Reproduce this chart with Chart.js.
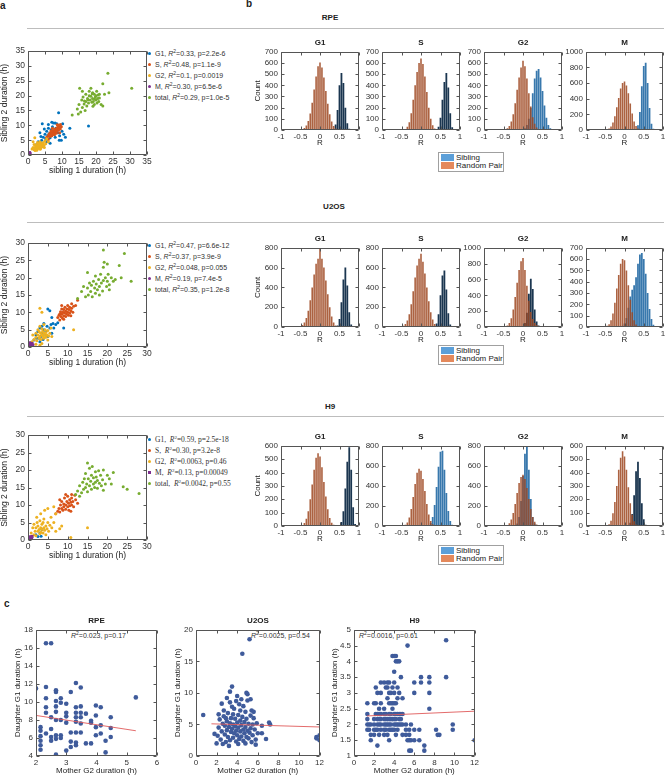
<!DOCTYPE html>
<html>
<head>
<meta charset="utf-8">
<title>Sibling cell-cycle phase correlations</title>
<script src="https://cdn.jsdelivr.net/npm/chart.js@4.4.1/dist/chart.umd.min.js"></script>
<style>
  body { margin: 0; width: 671px; height: 776px; position: relative; overflow: hidden; background: #fff;
         font-family: "Liberation Sans", Arial, sans-serif; color: #222; }
  canvas { position: absolute; }
  .txt { position: absolute; white-space: nowrap; }
  .panel { font-weight: bold; font-size: 10px; line-height: 10px; }
  .head { font-weight: bold; font-size: 8px; line-height: 9px; transform: translateX(-50%); }
  .rule { position: absolute; left: 27px; width: 637px; height: 1px; background: #bdbdbd; }
  .leg { position: absolute; font-size: 7px; line-height: 11px; color: #333; white-space: nowrap; }
  .leg.serif { font-family: "Liberation Serif", "DejaVu Serif", serif; font-size: 7.5px; }
  .leg b { display: inline-block; width: 3px; height: 3px; border-radius: 50%; margin: 0 4px 0 1px; vertical-align: 1px; }
  sup { font-size: 5px; vertical-align: 3px; line-height: 0; }
  .hleg { position: absolute; width: 62px; border: 1px solid #a0a0a0; background: #fff; font-size: 8px;
          line-height: 8.5px; padding: 0.5px 0 0.5px 2px; color: #222; }
  .hleg i { display: inline-block; width: 13px; height: 7px; margin-right: 2px; vertical-align: -1px; }
  .note { position: absolute; font-size: 7px; white-space: nowrap; color: #333; }
</style>
</head>
<body>
<div class="txt panel" style="left:0px;top:1px">a</div>
<div class="txt panel" style="left:246px;top:-1px">b</div>
<div class="txt panel" style="left:4px;top:599px">c</div>

<div class="txt head" style="left:330px;top:13px">RPE</div>
<div class="rule" style="top:28px"></div>
<div class="txt head" style="left:334px;top:202px">U2OS</div>
<div class="rule" style="top:222px"></div>
<div class="txt head" style="left:330px;top:402px">H9</div>
<div class="rule" style="top:416px"></div>

<div class="leg" style="left:147px;top:48px">
  <div><b style="background:#0072BD"></b>G1, <i>R</i><sup>2</sup>=0.33, p=2.2e-6</div>
  <div><b style="background:#D95319"></b>S, <i>R</i><sup>2</sup>=0.48, p=1.1e-9</div>
  <div><b style="background:#EDB120"></b>G2, <i>R</i><sup>2</sup>=0.1, p=0.0019</div>
  <div><b style="background:#7E2F8E"></b>M, <i>R</i><sup>2</sup>=0.30, p=6.5e-6</div>
  <div><b style="background:#77AC30"></b>total, <i>R</i><sup>2</sup>=0.29, p=1.0e-5</div>
</div>
<div class="leg" style="left:147px;top:240px">
  <div><b style="background:#0072BD"></b>G1, <i>R</i><sup>2</sup>=0.47, p=6.6e-12</div>
  <div><b style="background:#D95319"></b>S, <i>R</i><sup>2</sup>=0.37, p=3.9e-9</div>
  <div><b style="background:#EDB120"></b>G2, <i>R</i><sup>2</sup>=0.048, p=0.055</div>
  <div><b style="background:#7E2F8E"></b>M, <i>R</i><sup>2</sup>=0.19, p=7.4e-5</div>
  <div><b style="background:#77AC30"></b>total, <i>R</i><sup>2</sup>=0.35, p=1.2e-8</div>
</div>
<div class="leg serif" style="left:147px;top:434px">
  <div><b style="background:#0072BD"></b>G1, &nbsp;<i>R</i><sup>2</sup>=0.59, p=2.5e-18</div>
  <div><b style="background:#D95319"></b>S, &nbsp;<i>R</i><sup>2</sup>=0.30, p=3.2e-8</div>
  <div><b style="background:#EDB120"></b>G2, &nbsp;<i>R</i><sup>2</sup>=0.0063, p=0.46</div>
  <div><b style="background:#7E2F8E;border-radius:0"></b>M, &nbsp;<i>R</i><sup>2</sup>=0.13, p=0.00049</div>
  <div><b style="background:#77AC30"></b>total, &nbsp;<i>R</i><sup>2</sup>=0.0042, p=0.55</div>
</div>

<div class="hleg" style="left:438px;top:152px"><div><i style="background:#5c9fd8"></i>Sibling</div><div><i style="background:#e4895c"></i>Random Pair</div></div>
<div class="hleg" style="left:438px;top:345px"><div><i style="background:#5c9fd8"></i>Sibling</div><div><i style="background:#e4895c"></i>Random Pair</div></div>
<div class="hleg" style="left:438px;top:545px"><div><i style="background:#5c9fd8"></i>Sibling</div><div><i style="background:#e4895c"></i>Random Pair</div></div>

<div class="note" style="left:71px;top:632px"><i>R</i><sup>2</sup>=0.023, p=0.17</div>
<div class="note" style="left:251px;top:632px"><i>R</i><sup>2</sup>=0.0025, p=0.54</div>
<div class="note" style="left:359px;top:632px"><i>R</i><sup>2</sup>=0.0016, p=0.61</div>

<script>
// ---------- panel a : sibling 1 vs sibling 2 phase durations (h) ----------
const rpeG1 = [[3.5,7.5],[4.2,10.5],[4.5,6],[5,7],[5.2,5.5],[5.5,8],[5.8,6.5],[6,9],[6.2,7.2],[6.5,5.8],[6.8,8.5],[7,6.8],[7.2,9.5],[7.5,10.8],[7.8,8],[8,6],[8.2,9],[8.5,10.5],[8.8,7.5],[9,14.2],[9,8.8],[9.3,6.5],[9.5,9.8],[9.8,5],[10,8],[10.2,10.5],[10.5,7],[11,6],[12.3,9],[3,4.5],[4,5],[4.8,8.8],[5.5,4.5],[6,10.3],[7,11],[8,10.8],[17.8,9.8],[3.8,6.2],[2.5,3.5],[6.5,4],[9.2,5]];
const rpeS = [[5.5,6],[5.8,5.5],[6,6.5],[6.2,7],[6.5,6.2],[6.5,7.5],[6.8,7],[7,6.5],[7,7.8],[7.2,7.2],[7.3,8.2],[7.5,7],[7.5,8],[7.6,7.5],[7.8,8.5],[8,7.8],[8,8.8],[8.2,8.2],[8.3,7.3],[8.5,9],[8.5,8],[8.7,8.6],[8.8,9.5],[9,8.5],[9,10],[9.2,9.2],[9.5,8.8],[9.5,10.3],[9.8,9.5],[6,5.2],[6.8,8.2],[7.8,6.8],[8.6,10.2],[7.2,9],[9.3,7.5]];
const rpeG2 = [[1.2,2],[1.5,2.5],[1.8,1.8],[1.8,3.5],[2,2.2],[2,5.8],[2.2,3],[2.3,2.5],[2.5,2],[2.5,3.5],[2.7,2.8],[2.8,4.2],[3,2.2],[3,3],[3.2,3.8],[3.3,2.6],[3.5,3.2],[3.5,4.5],[3.7,2.3],[3.8,3.6],[4,3],[4,4],[4.2,2.8],[4.3,3.5],[4.5,4.2],[4.7,3.2],[5,4.8],[5.2,3.8],[5.5,5.5],[6,4.5],[2.6,1.6],[3.6,1.9],[1.5,4.5],[2.1,1.5],[4.8,2.5]];
const rpeM = [[0.3,0.3],[0.5,0.6],[0.6,0.4],[0.4,0.8]];
const rpeTotal = [[13,13.5],[14.5,15.5],[15,17],[15.2,22.5],[15.5,14.5],[15.8,18.5],[16,16],[16.2,19.5],[16.5,17.2],[16.8,15],[17,18],[17,20.5],[17.3,16.5],[17.5,19],[17.8,17.5],[18,20],[18,21.5],[18.3,18.5],[18.5,19.8],[18.8,17.8],[19,19],[19,21],[19.2,18],[19.5,20.5],[19.5,17],[19.8,19.5],[20,18.5],[20,20],[20.2,21.5],[20.5,19],[20.8,18],[21,20.5],[21,19.2],[21.5,17],[22,24],[22,16.5],[22.5,20.5],[23.5,27.5],[23.8,21],[30.5,22.5],[16,21.5],[18.5,22.5],[14.8,13.8],[20.3,17.5],[17.6,18.6],[18.9,20.6],[19.6,18.8],[20.6,20.2],[16.6,18.2],[19.1,16.4]];

const u2osG1 = [[1.5,2],[2,3.5],[2.5,4.5],[2.8,2.5],[3,5.5],[3.2,3],[3.5,4],[3.5,6],[3.8,2.2],[4,5],[4.2,3.5],[4.5,4.5],[4.8,6],[5,3],[5,11],[5.5,10.5],[5.5,5.5],[5.8,6.5],[6,4],[6,8.5],[6.3,6.8],[6.5,5.5],[7,6.5],[7.5,7],[9,5.5],[4,6.8],[2.2,2.5],[3,1.5]];
const u2osS = [[7.5,8.5],[7.8,9.2],[8,7.8],[8,9.5],[8.2,10.2],[8.3,8.8],[8.5,9.5],[8.5,11],[8.7,8.3],[8.8,10],[9,9],[9,10.8],[9.2,9.8],[9.3,11.5],[9.5,8.8],[9.5,10.3],[9.7,9.5],[9.8,11],[10,10],[10,12],[10.2,9.2],[10.3,10.8],[10.5,11.5],[10.5,9.8],[10.8,10.5],[11,11.2],[11,12.5],[11.3,10],[11.5,11.8],[12,12],[12.5,13.5],[9,8],[10.8,9],[8.5,12]];
const u2osG2 = [[1,1.5],[1.2,3.5],[1.5,2.2],[2,2.8],[2,4],[2.2,1.8],[2.5,3.5],[2.5,5],[2.8,2.5],[2.8,4.5],[3,3],[3,6],[3,11.2],[3.2,4],[3.3,2.2],[3.5,3.5],[3.5,5.2],[3.5,10],[3.7,4.5],[3.8,3],[4,4],[4,2.5],[4,6.5],[4.2,3.5],[4.3,5],[4.5,4.2],[4.5,2.8],[4.8,3.5],[5,4.8],[5,2],[5.2,3.2],[5.5,4],[5.8,5.5],[3,0.5],[3.5,1],[2,0.8],[11.5,5],[6,3]];
const u2osM = [[0.3,0.2],[0.5,0.5],[0.6,0.8],[0.8,0.4],[1,1],[0.4,1.2],[1.2,0.6]];
const u2osTotal = [[12.5,14],[13.5,16],[14,17.5],[15,17],[15.2,15],[15.5,18.5],[15.8,16],[16,17.8],[16.2,14.5],[16.5,19],[16.8,17],[17,15.5],[17,20.5],[17.2,18.2],[17.5,16.5],[17.8,19.5],[18,17.5],[18,15],[18.3,21],[18.5,18.5],[18.8,16.2],[19,19.2],[19,23],[19.2,24.5],[19.5,20],[19.8,17.5],[20,19],[20.2,21],[20.5,18],[20.5,16.5],[21,20],[21.5,19],[19,28],[24.3,27],[26,19],[23,23.5],[23.5,20],[22,19.5],[20,24],[15,21.5],[14.5,14.5]];

const h9G1 = [[2,1.5],[3,2],[3.3,1.1],[2.5,1],[3.5,3]];
const h9S = [[7,7.5],[7.5,8.2],[7.8,9],[8,8],[8.2,10],[8.5,9],[8.5,11],[8.8,8.5],[9,10.3],[9,9.5],[9.2,12],[9.5,10],[9.5,8.8],[9.8,11],[10,9.5],[10,12.5],[10.2,10.5],[10.3,8.5],[10.5,11.5],[10.5,9.8],[10.8,10.8],[11,10],[11,12],[11.3,11],[11.5,9.5],[11.8,12.8],[12,11.5],[12.5,10.5],[9.5,13],[8,11.5],[10.8,8.2],[11,13]];
const h9G2 = [[0.8,2],[1,1],[1.2,3.5],[1.5,1.5],[1.5,4.5],[1.8,2.5],[2,3.5],[2,1.2],[2.3,5],[2.5,2.5],[2.5,4],[2.8,3],[3,1.8],[3,5.5],[3.2,3.5],[3.3,2.2],[3.5,4.5],[3.5,3],[3.8,2],[3.8,5],[4,3.5],[4,6],[4.2,2.8],[4.5,4],[4.5,1.5],[4.8,3.2],[5,5],[5,9],[5.2,2.5],[5.5,4.2],[5.8,6.5],[6,3.5],[6.5,9.5],[6.5,5],[7,7.5],[7,2.5],[8,3.2],[8.5,4],[10.8,0.7],[15,3.5],[2.2,6.5],[3.2,7.5],[4.2,8.5]];
const h9M = [[0.3,0.3],[0.6,0.6],[0.9,0.4],[0.5,0.9],[1,1]];
const h9Total = [[12,13],[12.5,14],[13,15.5],[13.5,13.5],[13.8,16.5],[14,14.5],[14.2,17.5],[14.5,15],[14.5,19],[14.8,16],[15,22],[15,13.8],[15.2,17.5],[15.5,15.5],[15.5,20.5],[15.8,16.8],[16,18.5],[16,14.5],[16.2,21],[16.5,16],[16.5,17.8],[16.8,15],[17,19.5],[17,16.5],[17.2,18],[17.5,14.8],[17.5,17],[17.8,19.8],[18,16.2],[18.3,18.5],[18.5,15.5],[18.8,17.2],[19,20],[19.5,16],[20,18.5],[20.5,17.5],[21.5,19.3],[21,16],[24,15.2],[25,14.5],[28,13.3],[19,14.2],[13,12.5]];

// ---------- panel b : histograms of correlation R (bin centres, counts) ----------
const binCenters = [-0.95,-0.9,-0.85,-0.8,-0.75,-0.7,-0.65,-0.6,-0.55,-0.5,
  -0.45,-0.4,-0.35,-0.3,-0.25,-0.2,-0.15,-0.1,-0.05,0,
  0.05,0.1,0.15,0.2,0.25,0.3,0.35,0.4,0.45,0.5,
  0.55,0.6,0.65,0.7,0.75,0.8,0.85,0.9,0.95];

const rpeG1Rand = [0,0,0,0,0,0,0,0,1,3, 8,18,40,80,148,245,362,480,570,605, 560,470,350,235,140,75,35,14,5,2, 0,0,0,0,0,0,0,0,0];
const rpeG1Sib  = [0,0,0,0,0,0,0,0,0,0, 0,0,0,0,0,0,0,0,0,0, 0,0,0,0,0,0,8,50,180,400, 510,420,200,60,12,2,0,0,0];
const rpeSRand  = [0,0,0,0,0,0,0,0,0,0, 3,10,28,70,150,270,400,520,600,640, 590,480,340,200,100,42,14,4,1,0, 0,0,0,0,0,0,0,0,0];
const rpeSSib   = [0,0,0,0,0,0,0,0,0,0, 0,0,0,0,0,0,0,0,0,0, 0,0,0,0,0,0,0,5,30,110, 270,430,510,380,150,25,2,0,0];
const rpeG2Rand = [0,0,0,0,0,0,0,0,0,2, 6,15,35,75,140,240,360,470,560,620, 570,460,330,210,115,55,22,8,2,0, 0,0,0,0,0,0,0,0,0];
const rpeG2Sib  = [0,0,0,0,0,0,0,0,0,0, 0,0,0,0,0,0,0,0,0,5, 15,45,100,200,330,460,530,545,470,350, 220,110,45,15,4,0,0,0,0];
const rpeMRand  = [0,0,0,0,0,0,0,0,0,3, 8,20,45,95,175,290,410,530,600,620, 570,470,340,210,110,50,18,6,1,0, 0,0,0,0,0,0,0,0,0];
const rpeMSib   = [0,0,0,0,0,0,0,0,0,0, 0,0,0,0,0,0,0,0,0,0, 0,0,0,0,0,10,60,230,560,820, 860,600,280,80,15,2,0,0,0];

const u2osG1Rand = [0,0,0,0,0,0,0,0,2,8, 20,45,90,165,270,400,530,640,690,790, 690,600,470,330,200,105,45,16,5,1, 0,0,0,0,0,0,0,0,0];
const u2osG1Sib  = [0,0,0,0,0,0,0,0,0,0, 0,0,0,0,0,0,0,0,0,0, 0,0,0,0,0,0,0,0,15,80, 250,480,600,420,150,25,2,0,0];
const u2osSRand  = [0,0,0,0,0,0,0,0,0,4, 12,30,65,130,230,360,500,620,690,740, 660,540,400,260,150,75,30,10,3,0, 0,0,0,0,0,0,0,0,0];
const u2osSSib   = [0,0,0,0,0,0,0,0,0,0, 0,0,0,0,0,0,0,0,0,0, 0,0,0,0,0,0,5,35,130,320, 520,570,380,140,25,2,0,0,0];
const u2osG2Rand = [0,0,0,0,0,0,0,0,0,3, 8,20,50,110,220,380,560,720,830,870, 720,520,330,190,100,50,25,12,6,2, 0,0,0,0,0,0,0,0,0];
const u2osG2Sib  = [0,0,0,0,0,0,0,0,0,0, 0,0,0,0,0,0,0,0,0,10, 50,180,420,610,480,220,70,20,5,1, 0,0,0,0,0,0,0,0,0];
const u2osMRand  = [0,0,0,0,0,0,0,0,0,3, 10,25,60,120,215,340,460,560,600,590, 500,370,240,130,60,22,6,2,0,0, 0,0,0,0,0,0,0,0,0];
const u2osMSib   = [0,0,0,0,0,0,0,0,0,0, 0,0,0,0,0,0,0,3,10,30, 80,170,270,330,370,440,560,640,655,600, 470,300,160,70,20,5,0,0,0];

const h9G1Rand = [0,0,0,0,0,0,0,0,0,2, 8,22,55,110,200,310,420,510,545,520, 440,330,220,125,60,25,9,3,0,0, 0,0,0,0,0,0,0,0,0];
const h9G1Sib  = [0,0,0,0,0,0,0,0,0,0, 0,0,0,0,0,0,0,0,0,0, 0,0,0,0,0,0,0,0,0,5, 30,110,280,480,590,420,140,15,0];
const h9SRand  = [0,0,0,0,0,0,0,0,0,0, 3,12,35,85,170,290,420,530,570,550, 470,350,220,115,50,18,5,0,0,0, 0,0,0,0,0,0,0,0,0];
const h9SSib   = [0,0,0,0,0,0,0,0,0,0, 0,0,0,0,0,0,0,0,0,0, 0,0,0,8,30,90,210,390,590,740, 750,560,330,150,50,12,2,0,0];
const h9G2Rand = [0,0,0,0,0,0,0,0,0,0, 3,10,28,65,130,220,330,430,490,510, 470,380,270,170,90,42,16,6,2,0, 0,0,0,0,0,0,0,0,0];
const h9G2Sib  = [0,0,0,0,0,0,0,0,0,0, 0,0,0,0,0,5,25,90,250,500, 720,790,560,270,90,25,6,0,0,0, 0,0,0,0,0,0,0,0,0];
const h9MRand  = [0,0,0,0,0,0,0,0,0,0, 4,14,40,95,180,300,420,510,560,520, 420,290,170,85,35,12,3,0,0,0, 0,0,0,0,0,0,0,0,0];
const h9MSib   = [0,0,0,0,0,0,0,0,0,0, 0,0,0,0,0,0,0,0,0,0, 0,5,25,90,230,410,480,360,170,50, 10,0,0,0,0,0,0,0,0];

// ---------- panel c : mother G2 vs daughter G1 duration (h) ----------
const rpeMD = [[2.0,11.5],[2.15,7.2],[2.15,6.8],[2.15,6.2],[2.15,5.7],[2.15,5.2],[2.15,4.7],[2.33,11.65],[2.33,10.4],[2.33,9.4],[2.33,8.8],[2.33,6.5],[2.33,16.5],[2.5,16.5],[2.5,8.3],[2.5,7.0],[2.5,6.1],[2.5,5.7],[2.66,11.3],[2.66,11.1],[2.66,10.1],[2.66,9.5],[2.66,8.9],[2.66,8.0],[2.66,6.3],[2.66,5.9],[2.66,4.15],[2.82,10.4],[2.82,9.9],[2.82,8.0],[2.82,6.3],[2.82,6.0],[3.0,9.8],[3.0,8.8],[3.0,8.4],[3.0,7.7],[3.0,4.6],[3.15,11.1],[3.15,6.6],[3.15,5.6],[3.15,5.0],[3.32,12.1],[3.32,9.4],[3.32,8.8],[3.32,8.3],[3.32,7.8],[3.32,6.6],[3.32,5.5],[3.32,5.2],[3.48,11.6],[3.48,9.5],[3.48,8.8],[3.48,8.3],[3.48,7.6],[3.48,6.6],[3.65,8.7],[3.65,5.4],[3.82,5.4],[3.82,7.9],[3.82,7.7],[3.98,9.6],[3.98,8.5],[3.98,7.2],[3.98,6.3],[4.14,9.4],[4.14,7.4],[4.14,6.5],[4.3,4.4],[4.3,5.7],[4.47,8.3],[4.47,7.1],[4.47,6.1],[5.3,10.5]];
const rpeFit = [[2, 8.5], [5.3, 6.8]];

const u2osMD = [[2.1,3.2],[2.2,4.5],[2.3,5.8],[2.4,2.6],[2.5,3.9],[2.6,5.1],[2.7,6.3],[2.8,3.4],[2.8,4.8],[2.9,2.2],[3.0,5.5],[3.0,4.1],[3.1,6.8],[3.1,3.0],[3.2,4.6],[3.3,5.2],[3.3,2.5],[3.4,3.8],[3.4,6.0],[3.5,4.3],[3.5,11.0],[3.6,5.0],[3.6,2.9],[3.7,3.6],[3.7,7.5],[3.8,4.7],[3.8,5.9],[3.9,2.3],[3.9,4.0],[4.0,5.3],[4.0,3.3],[4.1,6.5],[4.1,4.5],[4.2,2.7],[4.2,8.2],[4.3,3.9],[4.3,5.6],[4.4,4.9],[4.4,3.1],[4.5,6.2],[4.5,16.2],[4.6,4.2],[4.6,2.4],[4.7,5.4],[4.7,3.6],[4.8,7.0],[4.8,4.6],[4.9,3.0],[4.9,5.9],[5.0,4.0],[5.0,8.8],[5.1,5.1],[5.1,2.8],[5.2,18.5],[5.2,3.7],[5.3,6.4],[5.3,4.4],[5.4,2.2],[5.5,5.0],[5.5,3.3],[5.6,6.0],[5.7,4.2],[5.8,2.6],[5.9,5.2],[6.0,3.6],[2.0,2.0],[1.8,3.5],[2.5,8.3],[3.0,9.2],[3.3,8.5],[4.0,9.5],[4.4,9.0],[5.0,9.8],[2.7,7.2],[3.5,7.8],[4.6,7.9],[5.4,7.2],[5.8,1.8],[3.2,1.6],[4.1,1.9],[6.4,4.8],[6.4,3.6],[6.8,2.7],[7.1,5.3],[7.2,5.0],[11.7,3.0],[11.7,2.8],[12,3.3],[12,2.5],[0.7,6.5],[2.2,6.6],[2.9,6.0],[3.6,6.6],[4.3,7.2],[5.6,7.0],[2.6,1.9],[4.8,2.0],[3.9,8.7],[4.9,10.0],[5.3,9.0],[3.3,10.2]];
const u2osFit = [[1.5, 5.1], [12, 4.6]];

const h9MD = [[1.33,2.67],[1.33,2.33],[1.33,2.17],[1.33,2],[1.33,1.83],[1.5,1.83],[1.5,2],[1.67,1.5],[1.67,1.67],[1.67,2],[2,1.67],[2,1.83],[2,2],[2,2.17],[2.17,2.33],[2,2.67],[2.17,2.67],[2.17,3.17],[2.17,1.83],[2.33,1.33],[2.33,2.17],[2.33,2.33],[2.33,1.83],[2.33,2],[2.33,3],[2.5,1.67],[2.5,2],[2.5,2.17],[2.5,2.33],[2.5,2.5],[2.67,3.33],[2.67,1.83],[2.67,2],[2.67,2.17],[2.67,2.33],[2.67,2.67],[2.67,3],[3,1.67],[3,1.83],[3,2],[3,2.17],[3,2.33],[3,3.33],[3,2.5],[3.17,1.83],[3.17,2],[3.17,2.33],[3.17,3.17],[3.17,2.17],[3.33,2],[3.33,2.17],[3.33,3.17],[3.33,3.33],[3.33,1.67],[3.33,2.83],[3.5,1.83],[3.5,2],[3.5,2.17],[3.5,2.33],[3.5,2.67],[3.5,3],[3.5,3.33],[3.5,1.5],[3.67,2],[3.67,2.17],[3.67,2.33],[3.67,2.67],[3.67,1.83],[3.67,3],[3.83,1.83],[3.83,2.17],[3.83,2.5],[3.83,2.67],[3.83,3.17],[3.83,4.17],[4,2],[4,2.17],[4,2.33],[4,2.67],[4,3],[4,3.33],[4,3.67],[4,4.17],[4,1.83],[4.17,2],[4.17,2.17],[4.17,2.33],[4.17,2.67],[4.17,4],[4.17,4.17],[4.17,1.67],[4.33,2],[4.33,2.33],[4.33,2.83],[4.33,3.17],[4.33,4],[4.33,1.83],[4.5,2],[4.5,2.17],[4.5,3],[4.5,4],[4.5,2.33],[4.67,2],[4.67,2.17],[4.67,2.33],[4.67,3.5],[4.83,1.67],[4.83,2],[4.83,2.33],[4.83,2.83],[5.17,1.83],[5.17,2],[5.17,1.67],[5.33,1.5],[5.33,4.5],[5.5,1.5],[5.5,1.67],[5.5,1.83],[5.5,1.17],[5.67,1.5],[5.67,2],[5.67,1.17],[6,1.5],[6,1.83],[6,3.33],[6,3],[6.5,1.5],[6.5,1.83],[6.67,3.33],[6.67,3.5],[7,1.33],[7,1.17],[7.5,3.5],[7.5,3.33],[7.5,2.5],[7.5,3],[8.17,1.83],[8.33,1.67],[8.5,1.67],[9.17,4.67],[9.17,3.5],[9.83,2],[9.83,1.83],[12,1.5]];
const h9Fit = [[1.3, 2.27], [12, 2.42]];

// ---------- drawing ----------
const SANS = '"Liberation Sans", Arial, sans-serif';
Chart.defaults.font.family = SANS;
Chart.defaults.color = '#333';

const PHASE_COL = { G1: '#0072BD', S: '#D95319', G2: '#EDB120', M: '#7E2F8E', total: '#77AC30' };
const RAND_COL = 'rgba(158,72,34,0.86)';
const SIB_DARK = '#1b3650';
const SIB_LIGHT = '#3878ad';

// MATLAB-style box with inward tick marks on all four sides
const boxTicks = {
  id: 'boxTicks',
  afterDraw(chart) {
    const { ctx, chartArea: a } = chart;
    const L = Math.round(a.left) + 0.5, R = Math.round(a.right) - 0.5;
    const T = Math.round(a.top) + 0.5, B = Math.round(a.bottom) - 0.5;
    const xs = chart.scales.x, ys = chart.scales.y, len = 3;
    ctx.save();
    ctx.strokeStyle = '#555';
    ctx.lineWidth = 1;
    ctx.beginPath();
    ctx.rect(L, T, R - L, B - T);
    xs.ticks.forEach(t => {
      const p = Math.round(xs.getPixelForValue(t.value)) + 0.5;
      ctx.moveTo(p, B); ctx.lineTo(p, B - len);
      ctx.moveTo(p, T); ctx.lineTo(p, T + len);
    });
    ys.ticks.forEach(t => {
      const p = Math.round(ys.getPixelForValue(t.value)) + 0.5;
      ctx.moveTo(L, p); ctx.lineTo(L + len, p);
      ctx.moveTo(R, p); ctx.lineTo(R - len, p);
    });
    ctx.stroke();
    ctx.restore();
  }
};

// plot = [left, top, width, height] of the plotting area on the page
function mount(plot, pad) {
  const c = document.createElement('canvas');
  const w = plot[2] + pad.l + pad.r, h = plot[3] + pad.t + pad.b;
  c.width = w; c.height = h;
  c.style.width = w + 'px'; c.style.height = h + 'px';
  c.style.left = (plot[0] - pad.l) + 'px';
  c.style.top = (plot[1] - pad.t) + 'px';
  document.body.appendChild(c);
  return c;
}

function label(text, cx, top, size) {
  const d = document.createElement('div');
  d.className = 'txt head';
  d.style.left = cx + 'px';
  d.style.top = top + 'px';
  if (size) d.style.fontSize = size + 'px';
  d.textContent = text;
  document.body.appendChild(d);
}

function axis(min, max, step, title, size, isX, fs) {
  return {
    type: 'linear', min, max, offset: false,
    grid: { display: false, drawTicks: false },
    border: { display: false },
    ticks: {
      stepSize: step, autoSkip: false, maxRotation: 0, padding: isX ? 2 : 3,
      font: { size: fs }, color: '#333',
      callback: v => String(Math.round(v * 100) / 100)
    },
    title: { display: !!title, text: title || '', font: { size: fs }, color: '#222', padding: 0 },
    afterFit: s => { if (isX) s.height = size; else s.width = size; }
  };
}

function baseOptions(pad, x, y) {
  return {
    responsive: false, animation: false, events: [], devicePixelRatio: 1,
    layout: { padding: { top: pad.t, right: pad.r, left: 0, bottom: 0 } },
    plugins: { legend: { display: false }, tooltip: { enabled: false } },
    scales: { x, y }
  };
}

function phaseScatter(plot, g1, s, g2, m, total, max) {
  const pad = { l: 28, r: 8, t: 6, b: 21 };
  const sets = [['total', total, 1], ['M', m, 2], ['G2', g2, 3], ['S', s, 4], ['G1', g1, 5]];
  const datasets = sets.map(([k, arr, order]) => ({
    data: arr.map(([x, y]) => ({ x, y })),
    backgroundColor: PHASE_COL[k], borderWidth: 0, order,
    pointRadius: k === 'M' ? 2.2 : 1.5,
    pointStyle: k === 'M' ? 'rect' : 'circle'
  }));
  new Chart(mount(plot, pad), {
    type: 'scatter',
    data: { datasets },
    options: baseOptions(pad,
      axis(0, max, 5, 'sibling 1 duration (h)', pad.b, true, 8.5),
      axis(0, max, 5, 'Sibling 2 duration (h)', pad.l, false, 8.5)),
    plugins: [boxTicks]
  });
}

function hist(plot, padL, title, ymax, ystep, rand, sib, sibCol, withCount) {
  const pad = { l: padL, r: 5, t: 5, b: 18 };
  const bars = (counts, color, name, pct) => ({
    label: name,
    data: binCenters.map((x, i) => ({ x, y: counts[i] })),
    backgroundColor: color, borderWidth: 0,
    barPercentage: pct, categoryPercentage: 1, grouped: false
  });
  new Chart(mount(plot, pad), {
    type: 'bar',
    data: { datasets: [bars(rand, RAND_COL, 'Random Pair', 0.82), bars(sib, sibCol, 'Sibling', 0.92)] },
    options: baseOptions(pad,
      axis(-1, 1, 0.5, 'R', pad.b, true, 8),
      axis(0, ymax, ystep, withCount ? 'Count' : '', pad.l, false, 8)),
    plugins: [boxTicks]
  });
  label(title, plot[0] + plot[2] / 2, plot[1] - 11);
}

function mdScatter(plot, padL, title, xr, yr, pts, fit) {
  const pad = { l: padL, r: 6, t: 6, b: 20 };
  new Chart(mount(plot, pad), {
    type: 'scatter',
    data: { datasets: [
      { data: fit.map(([x, y]) => ({ x, y })), showLine: true, borderColor: '#e05a5a', borderWidth: 0.9, pointRadius: 0 },
      { data: pts.map(([x, y]) => ({ x, y })), backgroundColor: '#3f5b9b', borderWidth: 0, pointRadius: 2.3 }
    ] },
    options: baseOptions(pad,
      axis(xr[0], xr[1], xr[2], 'Mother G2 duration (h)', pad.b, true, 8),
      axis(yr[0], yr[1], yr[2], 'Daughter G1 duration (h)', pad.l, false, 8)),
    plugins: [boxTicks]
  });
  label(title, plot[0] + plot[2] / 2, plot[1] - 12);
}

// panel a
phaseScatter([28, 49, 119, 106], rpeG1, rpeS, rpeG2, rpeM, rpeTotal, 35);
phaseScatter([28, 241, 119, 106], u2osG1, u2osS, u2osG2, u2osM, u2osTotal, 30);
phaseScatter([28, 433, 119, 107], h9G1, h9S, h9G2, h9M, h9Total, 30);

// panel b
hist([281, 49, 78, 81], 28, 'G1', 700, 100, rpeG1Rand, rpeG1Sib, SIB_DARK, true);
hist([382, 49, 78, 81], 18, 'S', 700, 100, rpeSRand, rpeSSib, SIB_DARK);
hist([484, 49, 78, 81], 18, 'G2', 700, 100, rpeG2Rand, rpeG2Sib, SIB_LIGHT);
hist([586, 49, 77, 81], 22, 'M', 1000, 200, rpeMRand, rpeMSib, SIB_LIGHT);

hist([281, 245, 78, 82], 28, 'G1', 800, 200, u2osG1Rand, u2osG1Sib, SIB_DARK, true);
hist([382, 245, 78, 82], 18, 'S', 800, 200, u2osSRand, u2osSSib, SIB_DARK);
hist([484, 245, 78, 82], 22, 'G2', 1000, 200, u2osG2Rand, u2osG2Sib, SIB_DARK);
hist([586, 245, 77, 82], 18, 'M', 700, 100, u2osMRand, u2osMSib, SIB_LIGHT);

hist([281, 443, 78, 83], 28, 'G1', 600, 100, h9G1Rand, h9G1Sib, SIB_DARK, true);
hist([382, 443, 78, 83], 18, 'S', 800, 200, h9SRand, h9SSib, SIB_LIGHT);
hist([484, 443, 78, 83], 18, 'G2', 800, 200, h9G2Rand, h9G2Sib, SIB_LIGHT);
hist([586, 443, 77, 83], 18, 'M', 600, 100, h9MRand, h9MSib, SIB_DARK);

// panel c
mdScatter([36, 628, 121, 128], 23, 'RPE', [2, 6, 1], [4, 18, 2], rpeMD, rpeFit);
mdScatter([196, 628, 124, 128], 23, 'U2OS', [0, 12, 2], [0, 20, 5], u2osMD, u2osFit);
mdScatter([354, 628, 121, 128], 24, 'H9', [0, 12, 2], [1, 5, 0.5], h9MD, h9Fit);
</script>
</body>
</html>
